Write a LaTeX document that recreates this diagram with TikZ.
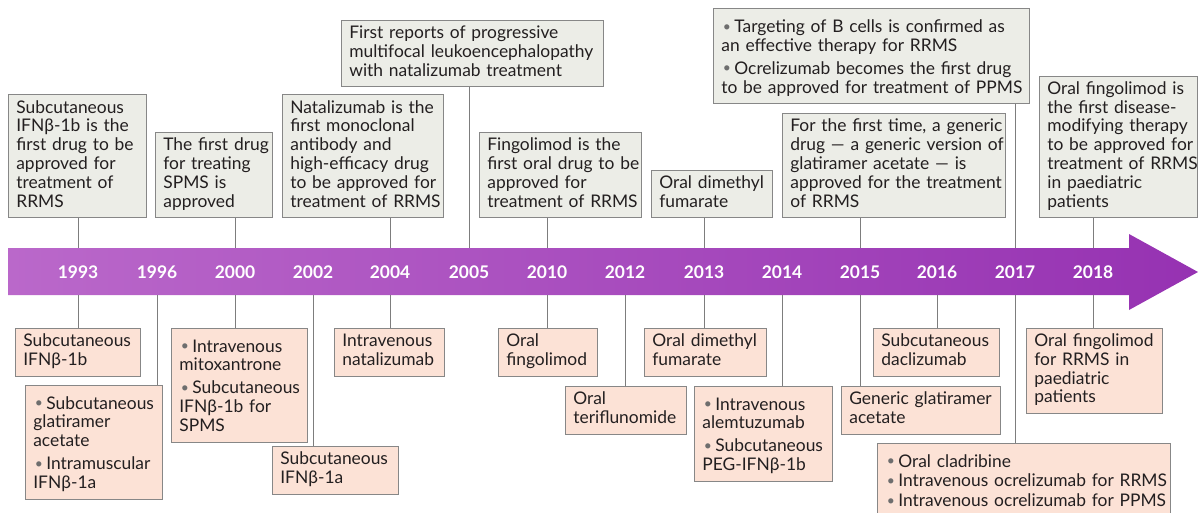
\documentclass[tikz,border=0pt]{standalone}
\usepackage{fontspec}
\setmainfont{Lato}
\usepackage{tikz}
\usetikzlibrary{positioning, calc}
\definecolor{bandleft}{RGB}{186,104,202}
\definecolor{bandright}{RGB}{150,50,178}
\definecolor{notegrey}{RGB}{236,237,231}
\definecolor{drugpeach}{RGB}{252,226,214}
\definecolor{edgegrey}{RGB}{135,135,135}
\definecolor{stemgrey}{RGB}{125,125,125}
\definecolor{inkgrey}{RGB}{35,31,32}
\definecolor{dotgrey}{RGB}{110,110,110}
\newcommand{\nowrap}{\rightskip=-60pt plus 1fil\relax}
\newcommand{\bitem}[1]{\par\nowrap\noindent\hangindent=13pt\hangafter=1\makebox[13pt][l]{\hspace{1.5pt}\raisebox{1.5pt}{\textcolor{dotgrey}{\scalebox{0.8}{\textbullet}}}}\strut#1\strut\par}

\begin{document}
\begin{tikzpicture}[x=1pt, y=-1pt,
    txt/.style={font=\fontsize{17.4}{18.8}\selectfont, text=inkgrey, align=left, inner xsep=8pt, inner ysep=5pt},
    note/.style={txt, draw=edgegrey, fill=notegrey, line width=0.7pt, anchor=south west},
    drug/.style={txt, draw=edgegrey, fill=drugpeach, line width=0.7pt, anchor=north west},
    plain/.style={execute at begin node={\nowrap\strut}, execute at end node=\strut},
    yearlbl/.style={font=\fontsize{17.4}{20}\selectfont\bfseries, text=white},
    stem/.style={draw=stemgrey, line width=0.8pt}]
        \useasboundingbox (0,0) rectangle (1198,513);
        \clip (0,0) rectangle (1198,513);
        % Timeline arrow
        \coordinate (bandtop) at (0,248);
        \coordinate (bandbot) at (0,295);
        \shade[left color=bandleft, right color=bandright] (8,248) -- (1129,248) -- (1129,234) -- (1198,272) -- (1129,310) -- (1129,295) -- (8,295) -- cycle;
        \foreach \yr/\xx in {1993/78, 1996/157, 2000/235, 2002/313, 2004/390, 2005/469, 2010/547, 2012/625, 2013/704, 2014/782, 2015/860, 2016/937, 2017/1015, 2018/1093}
          \node[yearlbl] (y\yr) at (\xx,272) {\yr};

        % Milestones above the arrow
        \node[note, plain, text width=122pt] (n1993) at (8,218) {Subcutaneous\\ IFNβ-1b is the\\ first drug to be\\ approved for\\ treatment of\\ RRMS};
        \node[note, plain, text width=101pt] (n2000) at (155,218) {The first drug\\ for treating\\ SPMS is\\ approved};
        \node[note, plain, text width=145pt] (n2004) at (282,218) {Natalizumab is the\\ first monoclonal\\ antibody and\\ high-efficacy drug\\ to be approved for\\ treatment of RRMS};
        \node[note, plain, text width=246pt] (n2005) at (341,87) {First reports of progressive\\ multifocal leukoencephalopathy\\ with natalizumab treatment};
        \node[note, plain, text width=146pt] (n2010) at (479,218) {Fingolimod is the\\ first oral drug to be\\ approved for\\ treatment of RRMS};
        \node[note, plain, text width=105pt] (n2013) at (651,218) {Oral dimethyl\\ fumarate};
        \node[note, plain, text width=207pt] (n2015) at (782,218) {For the first time, a generic\\ drug — a generic version of\\ glatiramer acetate — is\\ approved for the treatment\\ of RRMS};
        \node[note, text width=300pt] (n2017) at (713,104) {\bitem{Targeting of B cells is confirmed as\\ an effective therapy for RRMS}\vspace{4pt}\bitem{Ocrelizumab becomes the first drug\\ to be approved for treatment of PPMS}};
        \node[note, plain, text width=142pt] (n2018) at (1039,218) {Oral fingolimod is\\ the first disease-\\ modifying therapy\\ to be approved for\\ treatment of RRMS\\ in paediatric\\ patients};

        % Approved drugs below the arrow
        \node[drug, plain, text width=109pt] (d1993) at (15,328) {Subcutaneous\\ IFNβ-1b};
        \node[drug, text width=121pt] (d1996) at (25,385) {\bitem{Subcutaneous\\ glatiramer\\ acetate}\vspace{4pt}\bitem{Intramuscular\\ IFNβ-1a}};
        \node[drug, text width=120pt] (d2000) at (171,328) {\bitem{Intravenous\\ mitoxantrone}\vspace{4pt}\bitem{Subcutaneous\\ IFNβ-1b for\\ SPMS}};
        \node[drug, plain, text width=110pt] (d2002) at (272,446) {Subcutaneous\\ IFNβ-1a};
        \node[drug, plain, text width=94pt] (d2004) at (334,328) {Intravenous\\ natalizumab};
        \node[drug, plain, text width=83pt] (d2010) at (498,328) {Oral\\ fingolimod};
        \node[drug, plain, text width=105pt] (d2012) at (565,386) {Oral\\ teriflunomide};
        \node[drug, plain, text width=106pt] (d2013) at (644,328) {Oral dimethyl\\ fumarate};
        \node[drug, text width=122pt] (d2014) at (694,386) {\bitem{Intravenous\\ alemtuzumab}\vspace{4pt}\bitem{Subcutaneous\\ PEG-IFNβ-1b}};
        \node[drug, plain, text width=143pt] (d2015) at (841,386) {Generic glatiramer\\ acetate};
        \node[drug, plain, text width=110pt] (d2016) at (873,328) {Subcutaneous\\ daclizumab};
        \node[drug, text width=277pt] (d2017) at (877,443) {\bitem{Oral cladribine}\vspace{1pt}\bitem{Intravenous ocrelizumab for RRMS}\vspace{1pt}\bitem{Intravenous ocrelizumab for PPMS}};
        \node[drug, plain, text width=120pt] (d2018) at (1026,328) {Oral fingolimod\\ for RRMS in\\ paediatric\\ patients};

        % Stems to the arrow
        \foreach \yr in {1993,2000,2004,2005,2010,2013,2015,2017,2018}
          \draw[stem] (y\yr |- n\yr.south) -- (y\yr |- bandtop);
        \foreach \yr in {1993,1996,2000,2002,2004,2010,2012,2013,2014,2015,2016,2017,2018}
          \draw[stem] (y\yr |- bandbot) -- (y\yr |- d\yr.north);
\end{tikzpicture}
\end{document}
